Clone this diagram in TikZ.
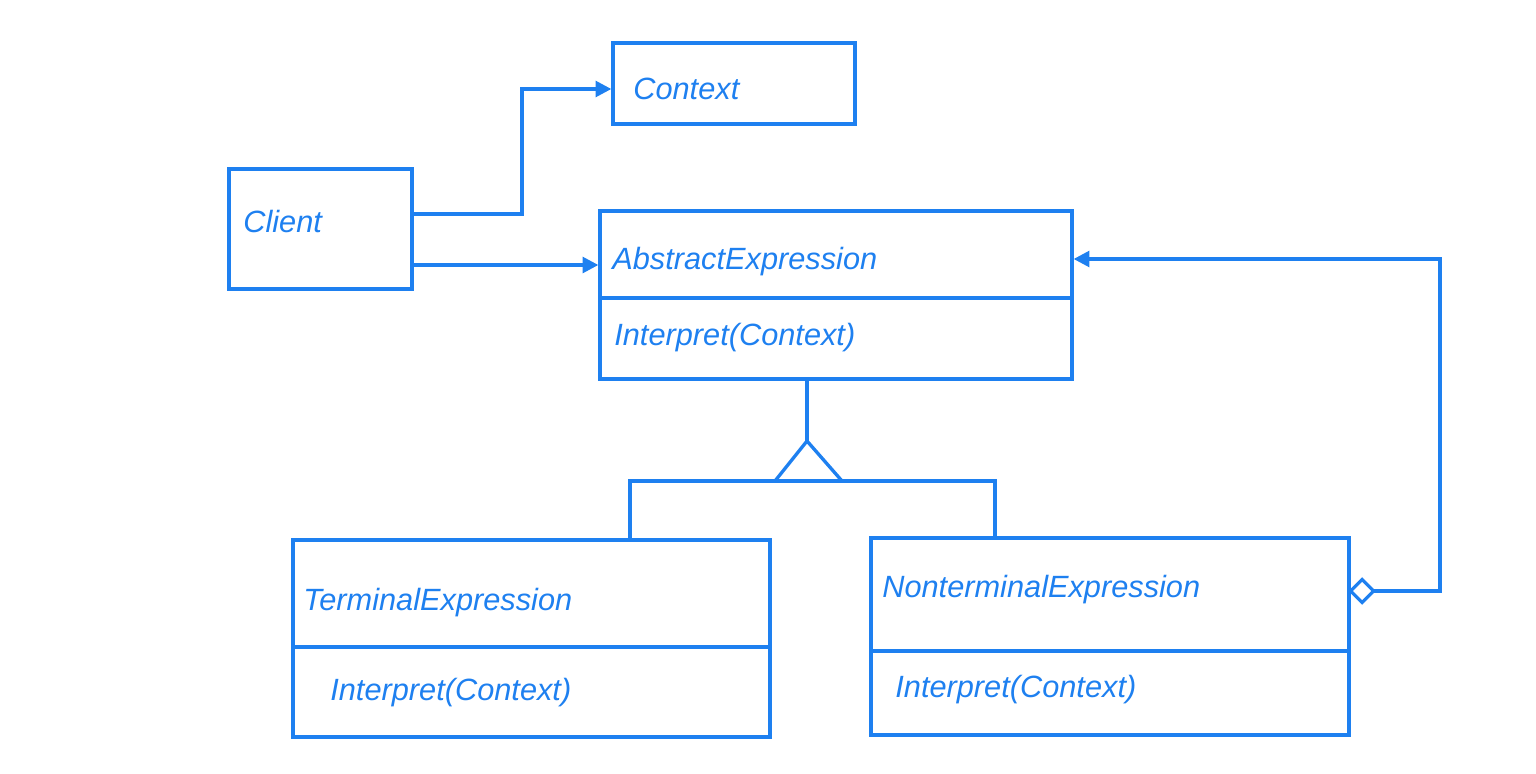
\documentclass[tikz,border=0pt]{standalone}
\usepackage{fontspec}
\setmainfont{Liberation Sans}
\usetikzlibrary{arrows.meta,calc}
\definecolor{umlblue}{RGB}{30,128,240}
\tikzset{
  box/.style={draw=umlblue, line width=1.9pt, rectangle, inner sep=0pt},
  lbl/.style={text=umlblue, anchor=west, inner sep=0pt, font=\fontsize{17.5}{21}\selectfont\itshape},
  conn/.style={draw=umlblue, line width=1.9pt, line join=miter},
  arr/.style={conn, -{Triangle[length=9pt,width=9pt]}}
}
\begin{document}
\begin{tikzpicture}[x=0.02cm,y=-0.02cm]
\useasboundingbox (0,0) rectangle (1536,774);
% boxes
\node[box, minimum width=4.84cm, minimum height=1.62cm] (ctx) at (734,83.5) {};
\node[box, minimum width=3.66cm, minimum height=2.4cm] (cli) at (320.5,229) {};
\node[box, minimum width=9.44cm, minimum height=3.36cm] (abs) at (836,295) {};
\node[box, minimum width=9.54cm, minimum height=3.94cm] (ter) at (531.5,638.5) {};
\node[box, minimum width=9.56cm, minimum height=3.94cm] (non) at (1110,636.5) {};
% dividers
\draw[conn] (abs.west |- 0,298) -- (abs.east |- 0,298);
\draw[conn] (ter.west |- 0,647) -- (ter.east |- 0,647);
\draw[conn] (non.west |- 0,651) -- (non.east |- 0,651);
% labels
\node[lbl] (tctx) at (633,89) {Context};
\node[lbl] (tcli) at (243,222) {Client};
\node[lbl] (tabs) at (612,262) {AbstractExpression};
\node[lbl] (tabsop) at (614,338) {Interpret(Context)};
\node[lbl] (tter) at (303,603) {TerminalExpression};
\node[lbl] (tterop) at (330,693) {Interpret(Context)};
\node[lbl] (tnon) at (882,590) {NonterminalExpression};
\node[lbl] (tnonop) at (895,690) {Interpret(Context)};
% client associations
\coordinate (bend) at (522,214);
\draw[arr] (cli.east |- bend) -- (bend) |- (ctx.west |- 0,89);
\draw[arr] (cli.east |- 0,265) -- (abs.west |- 0,265);
% inheritance
\coordinate (apex) at (807,441);
\coordinate (barL) at (630,481);
\coordinate (barR) at (995,481);
\draw[conn] (abs.south -| apex) -- (apex);
\draw[conn] (775,481) -- (apex) -- (842,481) -- cycle;
\draw[conn] (ter.north -| barL) -- (barL) -- (barR) -- (non.north -| barR);
% aggregation
\coordinate (dia) at (1349,591);
\coordinate (corner) at (1440,591);
\draw[conn] (non.east |- dia) -- ++(11.5,-11.5) -- ++(11.5,11.5) -- ++(-11.5,11.5) -- cycle;
\draw[arr] ($(dia)+(23,0)$) -- (corner) -- (1440,259) -- (abs.east |- 0,259);
\end{tikzpicture}
\end{document}
